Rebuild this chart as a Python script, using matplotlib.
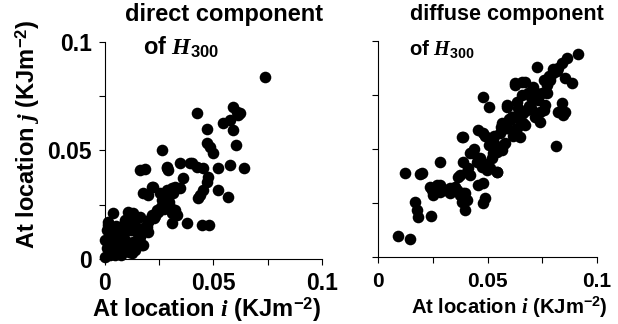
#!/usr/bin/env python3
"""Scatter of H300 direct and diffuse components at location i vs location j."""
import matplotlib
matplotlib.use("Agg")
import matplotlib.pyplot as plt

# direct component (x = location i, y = location j), KJm-2
direct_x = [
    0.0737, 0.0422, 0.0544, 0.0576, 0.0613, 0.0608, 0.0622, 0.0590, 0.0590, 0.0470,
    0.0263, 0.0470, 0.0484, 0.0498, 0.0604, 0.0286, 0.0290, 0.0346, 0.0401, 0.0424,
    0.0452, 0.0521, 0.0576, 0.0641, 0.0360, 0.0475, 0.0470, 0.0452, 0.0521, 0.0438,
    0.0429, 0.0567, 0.0221, 0.0286, 0.0346, 0.0313, 0.0267, 0.0161, 0.0184, 0.0284,
    0.0392, 0.0215, 0.0177, 0.0198, 0.0253, 0.0310, 0.0323, 0.0263, 0.0286, 0.0300,
    0.0323, 0.0310, 0.0332, 0.0240, 0.0217, 0.0310, 0.0378, 0.0447, 0.0480, 0.0037,
    0.0115, 0.0138, 0.0092, 0.0014, 0.0010, 0.0000, 0.0010, 0.0023, 0.0069, 0.0100,
    0.0124, 0.0152, 0.0184, 0.0198, 0.0055, 0.0092, 0.0129, 0.0170, 0.0152, 0.0037,
    0.0078, 0.0124, 0.0100, 0.0046, 0.0000, 0.0160, 0.0130, 0.0108, 0.0015, 0.0069,
    0.0115, 0.0160, 0.0177, 0.0192, 0.0205, 0.0225, 0.0245, 0.0270, 0.0280, 0.0295,
    0.0060, 0.0085, 0.0030, 0.0020, 0.0110, 0.0140, 0.0050, 0.0025, 0.0130, 0.0200,
    0.0230, 0.0260, 0.0160, 0.0075, 0.0035,
]
direct_y = [
    0.0839, 0.0671, 0.0627, 0.0640, 0.0664, 0.0677, 0.0673, 0.0700, 0.0594, 0.0599,
    0.0502, 0.0535, 0.0516, 0.0488, 0.0525, 0.0424, 0.0410, 0.0442, 0.0442, 0.0424,
    0.0419, 0.0419, 0.0433, 0.0419, 0.0373, 0.0378, 0.0355, 0.0318, 0.0318, 0.0295,
    0.0281, 0.0286, 0.0332, 0.0318, 0.0327, 0.0304, 0.0295, 0.0410, 0.0415, 0.0418,
    0.0442, 0.0333, 0.0304, 0.0295, 0.0304, 0.0326, 0.0333, 0.0272, 0.0258, 0.0240,
    0.0226, 0.0212, 0.0203, 0.0226, 0.0203, 0.0166, 0.0166, 0.0157, 0.0157, 0.0212,
    0.0203, 0.0189, 0.0180, 0.0170, 0.0134, 0.0088, 0.0050, 0.0018, 0.0124, 0.0147,
    0.0134, 0.0143, 0.0147, 0.0124, 0.0088, 0.0088, 0.0078, 0.0065, 0.0097, 0.0050,
    0.0032, 0.0028, 0.0055, 0.0018, 0.0009, 0.0195, 0.0210, 0.0218, 0.0157, 0.0149,
    0.0134, 0.0118, 0.0065, 0.0149, 0.0180, 0.0190, 0.0215, 0.0230, 0.0250, 0.0262,
    0.0060, 0.0110, 0.0100, 0.0060, 0.0030, 0.0040, 0.0150, 0.0125, 0.0165, 0.0170,
    0.0200, 0.0240, 0.0100, 0.0020, 0.0035,
]

# diffuse component (x = location i, y = location j), KJm-2
diffuse_x = [
    0.0093, 0.0146, 0.0123, 0.0192, 0.0169, 0.0177, 0.0183, 0.0242, 0.0245, 0.0268,
    0.0283, 0.0306, 0.0329, 0.0251, 0.0365, 0.0405, 0.0420, 0.0352, 0.0374, 0.0397,
    0.0382, 0.0397, 0.0283, 0.0200, 0.0390, 0.0458, 0.0481, 0.0489, 0.0390, 0.0413,
    0.0374, 0.0435, 0.0466, 0.0481, 0.0511, 0.0542, 0.0458, 0.0481, 0.0489, 0.0481,
    0.0237, 0.0283, 0.0329, 0.0359, 0.0390, 0.0405, 0.0527, 0.0557, 0.0588, 0.0565,
    0.0603, 0.0633, 0.0664, 0.0542, 0.0519, 0.0572, 0.0633, 0.0648, 0.0915, 0.0727,
    0.0862, 0.0839, 0.0823, 0.0800, 0.0785, 0.0770, 0.0854, 0.0884, 0.0626, 0.0671,
    0.0709, 0.0686, 0.0747, 0.0732, 0.0763, 0.0740, 0.0717, 0.0839, 0.0854, 0.0823,
    0.0846, 0.0740, 0.0656, 0.0633, 0.0588, 0.0648, 0.0679, 0.0610, 0.0664, 0.0588,
    0.0618, 0.0580, 0.0565, 0.0813, 0.0481, 0.0508, 0.0382, 0.0626, 0.0656, 0.0672,
    0.0756, 0.0588, 0.0610, 0.0550, 0.0527, 0.0473, 0.0496, 0.0542, 0.0700, 0.0720,
    0.0780, 0.0760, 0.0800, 0.0690, 0.0640, 0.0600, 0.0560, 0.0530, 0.0505, 0.0440,
    0.0420, 0.0450, 0.0700, 0.0770, 0.0815,
]
diffuse_y = [
    0.0097, 0.0082, 0.0387, 0.0384, 0.0256, 0.0218, 0.0187, 0.0190, 0.0310, 0.0333,
    0.0302, 0.0310, 0.0296, 0.0287, 0.0372, 0.0395, 0.0380, 0.0325, 0.0287, 0.0296,
    0.0256, 0.0218, 0.0441, 0.0387, 0.0557, 0.0588, 0.0573, 0.0560, 0.0441, 0.0411,
    0.0380, 0.0481, 0.0458, 0.0435, 0.0412, 0.0395, 0.0333, 0.0341, 0.0273, 0.0248,
    0.0326, 0.0333, 0.0319, 0.0310, 0.0295, 0.0264, 0.0542, 0.0573, 0.0596, 0.0619,
    0.0634, 0.0650, 0.0665, 0.0488, 0.0458, 0.0519, 0.0595, 0.0557, 0.0940, 0.0878,
    0.0920, 0.0897, 0.0873, 0.0850, 0.0819, 0.0796, 0.0827, 0.0804, 0.0804, 0.0812,
    0.0788, 0.0758, 0.0758, 0.0727, 0.0704, 0.0673, 0.0650, 0.0712, 0.0673, 0.0673,
    0.0657, 0.0626, 0.0750, 0.0719, 0.0704, 0.0673, 0.0681, 0.0650, 0.0620, 0.0596,
    0.0559, 0.0526, 0.0495, 0.0514, 0.0742, 0.0695, 0.0557, 0.0795, 0.0811, 0.0611,
    0.0680, 0.0695, 0.0650, 0.0511, 0.0480, 0.0418, 0.0403, 0.0395, 0.0740, 0.0760,
    0.0840, 0.0820, 0.0870, 0.0700, 0.0690, 0.0640, 0.0600, 0.0560, 0.0520, 0.0500,
    0.0480, 0.0440, 0.0690, 0.0760, 0.0860,
]

ticks = [0, 0.025, 0.05, 0.075, 0.1]
tick_labels = ["0", "", "0.05", "", "0.1"]

plt.rcParams["font.family"] = ["Liberation Sans", "DejaVu Sans"]
plt.rcParams["font.weight"] = "bold"
plt.rcParams["mathtext.fontset"] = "custom"
plt.rcParams["mathtext.rm"] = "Liberation Sans:bold"
plt.rcParams["mathtext.bf"] = "Liberation Sans:bold"
plt.rcParams["mathtext.it"] = "Liberation Serif:italic"

fig = plt.figure(figsize=(6.18, 3.24), dpi=100)
ax1 = fig.add_axes([0.1699, 0.2006, 0.3511, 0.6698])
ax2 = fig.add_axes([0.6117, 0.2068, 0.3544, 0.6667])


def style(ax, size, ylabels=True):
    ax.set_xlim(0, 0.1)
    ax.set_ylim(0, 0.1)
    for side in ("top", "right"):
        ax.spines[side].set_visible(False)
    for side in ("left", "bottom"):
        ax.spines[side].set_linewidth(0.8)
    ax.set_xticks(ticks)
    ax.set_xticklabels(tick_labels)
    ax.set_yticks(ticks)
    ax.set_yticklabels(tick_labels if ylabels else [""] * len(ticks))
    ax.tick_params(direction="out", length=4.5, width=0.8, labelsize=size, pad=5)


ax1.scatter(direct_x, direct_y, s=70, c="black", linewidths=0, clip_on=False, zorder=3)
ax2.scatter(diffuse_x, diffuse_y, s=70, c="black", linewidths=0, clip_on=False, zorder=3)
style(ax1, 16.5)
style(ax2, 15, ylabels=False)
ax2.tick_params(axis="x", pad=6.5)

h300 = r"of $\mathit{H}_{\mathit{300}}$"
fig.text(0.3625, 0.954, "direct component", ha="center", va="center", fontsize=17)
fig.text(0.821, 0.954, "diffuse component", ha="center", va="center", fontsize=15.6)
fig.text(0.231, 0.83, h300, ha="left", va="baseline", fontsize=17)
fig.text(0.662, 0.83, h300, ha="left", va="baseline", fontsize=14.6)

xlab = r"At location $\mathit{i}$ (KJm$^{\mathrm{-2}}$)"
fig.text(0.335, 0.044, xlab, ha="center", va="center", fontsize=17)
fig.text(0.824, 0.05, xlab, ha="center", va="center", fontsize=14.6)
fig.text(0.045, 0.586, r"At location $\mathit{j}$ (KJm$^{\mathrm{-2}}$)",
         ha="center", va="center", rotation=90, fontsize=17)

fig.savefig("out.png", dpi=100)
